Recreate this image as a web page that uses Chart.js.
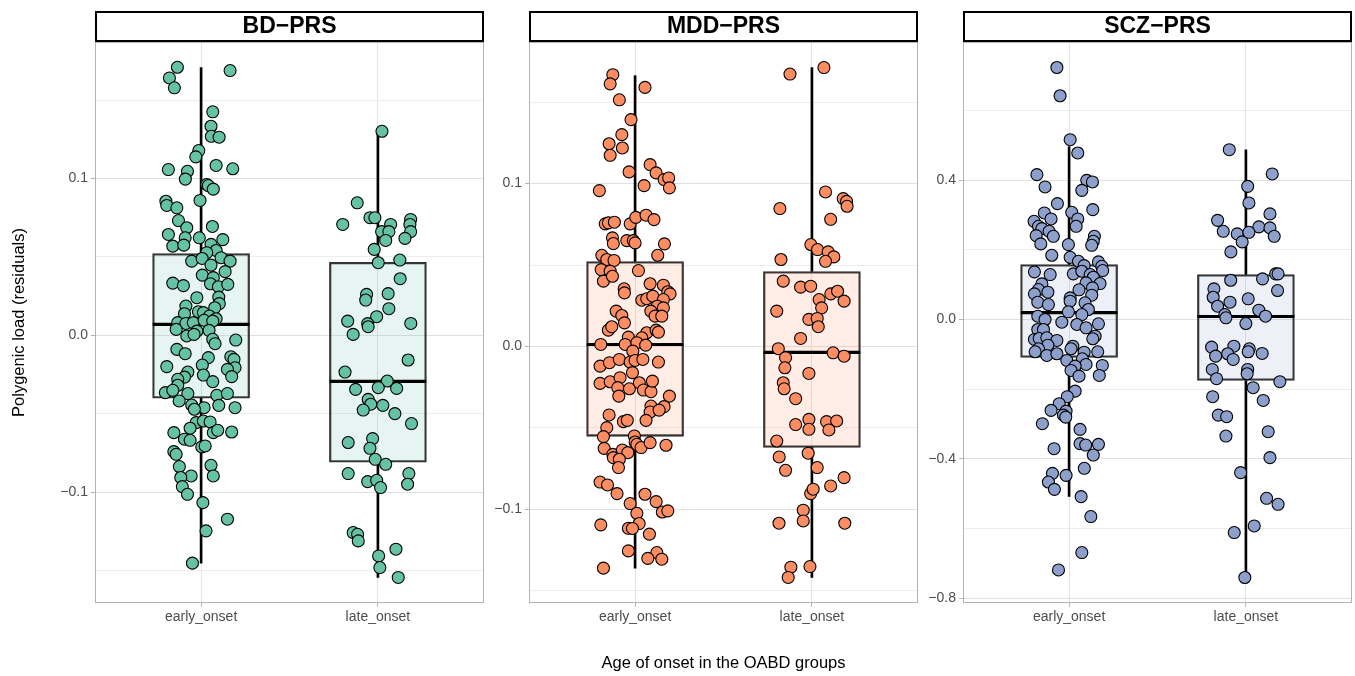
<!DOCTYPE html>
<html>
<head>
<meta charset="utf-8">
<script src="https://cdn.jsdelivr.net/npm/chart.js@4.4.1/dist/chart.umd.min.js"></script>
<style>
  html, body { margin: 0; padding: 0; background: #fff; }
  body { width: 1355px; height: 676px; position: relative; overflow: hidden; }
  canvas { position: absolute; top: 0; }
</style>
</head>
<body>
<canvas id="bdChart" width="485" height="676" style="left:0px"></canvas>
<canvas id="mddChart" width="434" height="676" style="left:485px"></canvas>
<canvas id="sczChart" width="434" height="676" style="left:919px"></canvas>
<script>
const groups = ['early_onset', 'late_onset'];
const FONT = '"Liberation Sans", Arial, Helvetica, sans-serif';

// jittered points: [x position (1 = early, 2 = late), residual]
const bdEarly = [
  [0.866, 0.1709], [1.164, 0.1688], [0.821, 0.1641], [0.849, 0.1578], [1.066, 0.1425], [1.056, 0.1333],
  [1.058, 0.1269], [1.102, 0.1263], [0.987, 0.1178], [0.970, 0.1138], [1.085, 0.1083], [0.815, 0.1057],
  [1.179, 0.1062], [0.923, 0.1046], [0.911, 0.0996], [1.032, 0.0962], [1.041, 0.0955], [1.069, 0.0932],
  [0.801, 0.0855], [0.806, 0.0828], [0.863, 0.0813], [0.994, 0.0860], [0.872, 0.0732], [0.919, 0.0686],
  [1.064, 0.0694], [0.815, 0.0643], [0.910, 0.0622], [0.990, 0.0622], [1.123, 0.0610], [0.840, 0.0569],
  [0.902, 0.0575], [1.056, 0.0580], [1.085, 0.0541], [1.032, 0.0527], [0.947, 0.0473], [1.006, 0.0490],
  [1.113, 0.0495], [1.164, 0.0473], [1.056, 0.0448], [1.136, 0.0406], [1.007, 0.0384], [1.069, 0.0368],
  [0.840, 0.0333], [0.900, 0.0317], [1.053, 0.0329], [1.098, 0.0310], [1.151, 0.0325], [0.976, 0.0240],
  [1.100, 0.0244], [0.914, 0.0187], [1.103, 0.0202], [1.077, 0.0176], [0.906, 0.0138], [0.985, 0.0151],
  [1.013, 0.0145], [1.047, 0.0123], [1.085, 0.0106], [0.868, 0.0081], [0.914, 0.0076], [0.956, 0.0081],
  [1.017, 0.0096], [1.066, 0.0091], [0.859, 0.0038], [0.976, 0.0027], [1.045, 0.0032], [0.919, -0.0004],
  [0.960, 0.0006], [1.066, -0.0025], [1.079, -0.0053], [1.196, -0.0030], [0.863, -0.0089], [0.910, -0.0117],
  [0.806, -0.0199], [1.041, -0.0142], [1.007, -0.0189], [1.168, -0.0136], [1.186, -0.0153], [1.192, -0.0206],
  [1.149, -0.0217], [1.173, -0.0263], [0.925, -0.0234], [1.013, -0.0253], [0.906, -0.0266], [0.868, -0.0280],
  [1.066, -0.0295], [0.868, -0.0318], [0.798, -0.0365], [0.840, -0.0350], [0.925, -0.0371], [1.089, -0.0382],
  [1.149, -0.0371], [0.876, -0.0418], [0.947, -0.0444], [1.017, -0.0461], [1.100, -0.0446], [1.192, -0.0461],
  [0.962, -0.0471], [0.972, -0.0556], [1.013, -0.0546], [1.051, -0.0552], [0.938, -0.0592], [0.846, -0.0620],
  [1.069, -0.0620], [1.094, -0.0605], [1.173, -0.0616], [0.906, -0.0662], [0.938, -0.0669], [1.004, -0.0711],
  [1.023, -0.0705], [0.846, -0.0741], [0.859, -0.0758], [0.877, -0.0836], [1.056, -0.0828], [1.069, -0.0896],
  [0.944, -0.0896], [0.885, -0.0906], [0.894, -0.0964], [0.923, -0.1013], [1.010, -0.1066], [1.149, -0.1172],
  [1.028, -0.1246], [0.951, -0.1452]
];
const bdLate = [
  [2.023, 0.1301], [1.883, 0.0845], [1.801, 0.0707], [1.955, 0.0750], [1.983, 0.0750], [2.072, 0.0707],
  [2.185, 0.0739], [2.181, 0.0707], [2.021, 0.0661], [2.062, 0.0661], [2.185, 0.0661], [2.044, 0.0605],
  [2.153, 0.0618], [1.979, 0.0548], [2.002, 0.0463], [2.124, 0.0480], [2.126, 0.0361], [1.936, 0.0261],
  [1.931, 0.0225], [2.058, 0.0266], [2.062, 0.0170], [1.993, 0.0119], [1.829, 0.0091], [1.942, 0.0075],
  [1.945, 0.0055], [2.186, 0.0076], [1.860, 0.0006], [2.171, -0.0157], [1.814, -0.0234], [2.053, -0.0291],
  [1.874, -0.0344], [2.002, -0.0333], [2.106, -0.0338], [1.945, -0.0408], [1.960, -0.0439], [1.917, -0.0476],
  [2.028, -0.0446], [2.096, -0.0499], [2.190, -0.0562], [1.832, -0.0683], [1.970, -0.0658], [1.955, -0.0720],
  [1.985, -0.0790], [2.044, -0.0822], [1.832, -0.0881], [1.942, -0.0932], [1.993, -0.0924], [2.015, -0.0970],
  [2.175, -0.0881], [2.168, -0.0949], [1.860, -0.1257], [1.885, -0.1268], [1.889, -0.1310], [2.102, -0.1363],
  [2.004, -0.1406], [2.011, -0.1480], [2.115, -0.1543]
];
const mddEarly = [
  [0.874, 0.1669], [0.859, 0.1613], [1.056, 0.1591], [0.911, 0.1515], [0.977, 0.1393], [0.925, 0.1301],
  [0.853, 0.1245], [0.928, 0.1219], [0.859, 0.1174], [1.085, 0.1117], [0.966, 0.1072], [1.119, 0.1066],
  [1.164, 0.1025], [1.190, 0.1035], [1.194, 0.0974], [1.051, 0.0988], [0.798, 0.0957], [0.831, 0.0753],
  [0.849, 0.0759], [0.883, 0.0763], [0.972, 0.0753], [1.004, 0.0793], [1.062, 0.0806], [1.107, 0.0779],
  [0.872, 0.0667], [0.877, 0.0632], [0.953, 0.0650], [0.990, 0.0650], [1.000, 0.0636], [1.166, 0.0630],
  [1.128, 0.0560], [0.812, 0.0560], [0.840, 0.0534], [0.881, 0.0528], [0.808, 0.0472], [0.859, 0.0462],
  [1.019, 0.0466], [0.821, 0.0401], [0.872, 0.0431], [1.085, 0.0385], [1.160, 0.0376], [1.185, 0.0336],
  [1.198, 0.0323], [0.938, 0.0354], [0.940, 0.0329], [1.038, 0.0284], [1.066, 0.0293], [1.100, 0.0309],
  [1.160, 0.0288], [1.126, 0.0247], [1.160, 0.0237], [1.089, 0.0217], [1.113, 0.0186], [1.151, 0.0186],
  [0.893, 0.0217], [0.925, 0.0190], [0.940, 0.0145], [0.849, 0.0100], [0.868, 0.0121], [1.066, 0.0084],
  [1.119, 0.0100], [1.132, 0.0088], [0.962, 0.0057], [1.038, 0.0053], [0.806, 0.0012], [0.944, 0.0012],
  [1.010, 0.0023], [1.060, 0.0008], [0.987, -0.0029], [0.802, -0.0121], [0.855, -0.0100], [0.911, -0.0080],
  [0.972, -0.0096], [1.000, -0.0086], [1.044, -0.0080], [1.132, -0.0096], [0.985, -0.0161], [0.802, -0.0227],
  [0.859, -0.0217], [0.915, -0.0192], [0.902, -0.0253], [0.968, -0.0260], [1.024, -0.0223], [1.047, -0.0268],
  [1.090, -0.0278], [1.098, -0.0213], [0.908, -0.0305], [1.194, -0.0305], [1.164, -0.0370], [1.090, -0.0366],
  [1.085, -0.0403], [1.136, -0.0391], [0.853, -0.0421], [0.934, -0.0462], [0.956, -0.0454], [1.062, -0.0454],
  [0.840, -0.0499], [0.821, -0.0554], [0.996, -0.0550], [0.825, -0.0626], [0.874, -0.0663], [0.928, -0.0636],
  [0.959, -0.0652], [1.000, -0.0587], [1.010, -0.0601], [1.034, -0.0621], [1.085, -0.0591], [1.175, -0.0607],
  [0.877, -0.0683], [0.911, -0.0693], [0.906, -0.0744], [0.802, -0.0833], [0.844, -0.0851], [0.898, -0.0904],
  [1.056, -0.0908], [1.119, -0.0953], [0.972, -0.0965], [1.010, -0.1025], [1.154, -0.1017], [1.185, -0.1010],
  [0.806, -0.1096], [1.023, -0.1088], [0.962, -0.1117], [0.985, -0.1118], [1.081, -0.1153], [0.962, -0.1256],
  [1.123, -0.1266], [1.072, -0.1302], [1.151, -0.1307], [0.821, -0.1362]
];
const mddLate = [
  [2.068, 0.1713], [1.876, 0.1673], [2.077, 0.0949], [2.177, 0.0908], [2.196, 0.0891], [2.199, 0.0861],
  [1.819, 0.0847], [2.106, 0.0781], [1.994, 0.0626], [2.032, 0.0595], [2.092, 0.0581], [2.124, 0.0550],
  [2.077, 0.0523], [1.825, 0.0534], [1.838, 0.0401], [1.936, 0.0364], [1.993, 0.0370], [2.041, 0.0288],
  [2.107, 0.0323], [2.145, 0.0339], [2.182, 0.0278], [2.055, 0.0237], [1.801, 0.0217], [1.983, 0.0166],
  [2.030, 0.0172], [2.036, 0.0121], [1.936, 0.0049], [1.810, -0.0014], [2.120, -0.0039], [2.182, -0.0060],
  [1.851, -0.0069], [1.847, -0.0131], [1.983, -0.0166], [1.838, -0.0223], [1.843, -0.0260], [1.908, -0.0321],
  [1.908, -0.0480], [1.983, -0.0448], [1.983, -0.0509], [2.083, -0.0462], [2.140, -0.0458], [2.096, -0.0513],
  [1.801, -0.0581], [1.979, -0.0656], [1.815, -0.0679], [1.851, -0.0761], [2.030, -0.0744], [2.182, -0.0806],
  [2.106, -0.0857], [1.993, -0.0904], [2.007, -0.0877], [1.951, -0.1006], [1.951, -0.1072], [1.814, -0.1086],
  [2.186, -0.1086], [1.989, -0.1352], [1.881, -0.1356], [1.866, -0.1419]
];
const sczEarly = [
  [0.931, 0.7234], [0.949, 0.6423], [1.006, 0.5161], [1.049, 0.4780], [0.818, 0.4158], [0.864, 0.3805],
  [1.100, 0.3994], [1.132, 0.3948], [1.072, 0.3708], [0.934, 0.3326], [1.134, 0.3154], [1.015, 0.3077],
  [0.860, 0.3059], [0.898, 0.2887], [0.802, 0.2819], [1.049, 0.2887], [1.040, 0.2675], [0.827, 0.2675],
  [0.846, 0.2609], [0.887, 0.2532], [0.814, 0.2409], [0.911, 0.2389], [1.143, 0.2389], [1.137, 0.2245],
  [1.128, 0.2130], [0.840, 0.2171], [0.996, 0.2151], [0.902, 0.1844], [1.006, 0.1786], [0.804, 0.1368],
  [0.893, 0.1290], [1.053, 0.1672], [1.085, 0.1548], [1.166, 0.1654], [1.185, 0.1528], [1.190, 0.1405],
  [1.024, 0.1310], [1.072, 0.1385], [1.119, 0.1290], [1.137, 0.1213], [0.846, 0.1024], [1.096, 0.1052],
  [1.175, 0.1032], [0.827, 0.0860], [0.880, 0.0783], [0.804, 0.0737], [1.056, 0.0852], [1.132, 0.0909],
  [1.006, 0.0622], [1.128, 0.0697], [0.823, 0.0496], [0.883, 0.0430], [1.006, 0.0525], [1.090, 0.0479],
  [1.109, 0.0287], [0.996, 0.0221], [1.072, 0.0143], [0.823, 0.0095], [0.864, 0.0000], [0.959, -0.0077],
  [1.166, -0.0123], [1.044, -0.0143], [1.096, -0.0238], [0.823, -0.0287], [0.855, -0.0287], [1.147, -0.0479],
  [1.134, -0.0553], [0.804, -0.0573], [0.831, -0.0545], [0.874, -0.0525], [0.931, -0.0602], [0.880, -0.0737],
  [1.021, -0.0766], [1.011, -0.0840], [0.827, -0.0840], [0.808, -0.0926], [0.874, -0.1032], [0.931, -0.0983],
  [1.085, -0.0938], [1.162, -0.0926], [0.987, -0.1176], [1.075, -0.1127], [1.096, -0.1290], [1.034, -0.1339],
  [1.011, -0.1462], [1.056, -0.1626], [1.188, -0.1319], [1.171, -0.1606], [1.034, -0.2056], [0.990, -0.2216],
  [0.944, -0.2417], [0.898, -0.2609], [0.983, -0.2629], [0.968, -0.2744], [0.981, -0.2801], [0.849, -0.2991],
  [1.062, -0.3154], [1.062, -0.3564], [1.094, -0.3604], [1.166, -0.3584], [1.137, -0.3891], [0.915, -0.3708],
  [1.086, -0.4272], [0.906, -0.4416], [0.983, -0.4473], [0.883, -0.4665], [0.917, -0.4875], [1.068, -0.5084],
  [1.123, -0.5657], [1.072, -0.6690], [0.940, -0.7189]
];
const sczLate = [
  [1.906, 0.4875], [2.149, 0.4178], [2.010, 0.3822], [2.017, 0.3346], [2.136, 0.3031], [1.840, 0.2847],
  [1.872, 0.2532], [2.073, 0.2658], [2.136, 0.2629], [2.160, 0.2389], [1.951, 0.2457], [1.979, 0.2228],
  [2.017, 0.2503], [1.915, 0.1941], [2.168, 0.1310], [2.182, 0.1310], [2.094, 0.1167], [1.914, 0.1127],
  [2.179, 0.0832], [1.819, 0.0880], [1.815, 0.0639], [1.910, 0.0496], [2.013, 0.0594], [1.840, 0.0381],
  [2.073, 0.0267], [2.111, 0.0095], [1.881, 0.0143], [1.887, 0.0049], [2.000, -0.0115], [1.806, -0.0794],
  [1.829, -0.1052], [1.932, -0.0766], [1.897, -0.0983], [1.928, -0.1147], [2.019, -0.0840], [2.013, -0.0926],
  [2.092, -0.0975], [1.810, -0.1434], [1.834, -0.1700], [2.010, -0.1434], [2.007, -0.1557], [2.192, -0.1786],
  [2.041, -0.1958], [1.812, -0.2216], [2.098, -0.2323], [1.844, -0.2744], [1.891, -0.2790], [1.887, -0.3346],
  [2.126, -0.3220], [2.136, -0.3966], [1.970, -0.4396], [2.117, -0.5133], [2.182, -0.5305], [2.047, -0.5927],
  [1.934, -0.6116], [1.994, -0.7406]
];

// boxplot stats per group: [lower whisker, Q1, median, Q3, upper whisker]
const bdBox = [[-0.1452, -0.0401, 0.0070, 0.0522, 0.1707], [-0.1543, -0.0809, -0.0293, 0.0465, 0.1310]];
const mddBox = [[-0.1362, -0.0552, 0.0012, 0.0521, 0.1663], [-0.1419, -0.0620, -0.0037, 0.0460, 0.1713]];
const sczBox = [[-0.508, -0.109, 0.020, 0.158, 0.496], [-0.741, -0.175, 0.0086, 0.129, 0.487]];

// y ticks (gridlines) and which of them carry labels
const bdTicks = [-0.15, -0.1, -0.05, 0, 0.05, 0.1, 0.15];
const bdLabels = [-0.1, 0, 0.1];
const mddTicks = [-0.15, -0.1, -0.05, 0, 0.05, 0.1, 0.15];
const mddLabels = [-0.1, 0, 0.1];
const sczTicks = [-0.8, -0.6, -0.4, -0.2, 0, 0.2, 0.4, 0.6];
const sczLabels = [-0.8, -0.4, 0, 0.4];

const bdRange = [-0.1706, 0.1870];
const mddRange = [-0.1576, 0.1870];
const sczRange = [-0.8138, 0.7966];

const BOX_HALF = 0.274;   // half box width, category units
const BOX_PX = 97;

const sameVal = (a, b) => Math.abs(a - b) < 1e-9;
const fmt = v => (v < -1e-9 ? '\u2212' : '') + Math.abs(v).toFixed(1);

const panelFrame = {
  id: 'panelFrame',
  afterDraw(chart, args, opts) {
    const { ctx, chartArea: a } = chart;
    ctx.save();
    ctx.strokeStyle = '#B3B3B3';
    ctx.lineWidth = 1;
    ctx.strokeRect(a.left + 0.5, a.top + 0.5, a.right - a.left - 1, a.bottom - a.top - 1);
    // strip on top of the panel
    ctx.fillStyle = '#fff';
    ctx.fillRect(a.left, a.top - 32, a.right - a.left, 31);
    ctx.strokeStyle = '#000';
    ctx.lineWidth = 2;
    ctx.strokeRect(a.left + 1, a.top - 30, a.right - a.left - 2, 29);
    ctx.fillStyle = '#000';
    ctx.font = 'bold 23px ' + FONT;
    ctx.textAlign = 'center';
    ctx.textBaseline = 'middle';
    ctx.fillText(opts.title, (a.left + a.right) / 2, a.top - 15);
    ctx.restore();
  }
};

function makePanel(id, title, color, fill, early, late, box, ticks, labels, range, axisWidth, yTitle, xTitle) {
  const points = early.concat(late).map(p => ({ x: p[0], y: p[1] }));
  const medians = box.map((b, i) => ({
    type: 'line',
    data: [{ x: i + 1 - BOX_HALF, y: b[2] }, { x: i + 1 + BOX_HALF, y: b[2] }],
    borderColor: '#000',
    borderWidth: 3.2,
    pointRadius: 0,
    order: 1
  }));

  new Chart(document.getElementById(id), {
    type: 'scatter',
    data: {
      datasets: [
        {
          type: 'scatter',
          data: points,
          backgroundColor: color,
          borderColor: '#000',
          borderWidth: 1.1,
          pointRadius: 6,
          order: 0
        },
        ...medians,
        {
          type: 'bar',
          data: box.map((b, i) => ({ x: i + 1, y: [b[1], b[3]] })),
          backgroundColor: fill,
          borderColor: '#333333',
          borderWidth: 1.6,
          borderSkipped: false,
          barThickness: BOX_PX,
          grouped: false,
          order: 2
        },
        {
          type: 'bar',
          data: box.flatMap((b, i) => [{ x: i + 1, y: [b[0], b[1]] }, { x: i + 1, y: [b[3], b[4]] }]),
          backgroundColor: '#000',
          borderWidth: 0,
          barThickness: 2,
          grouped: false,
          order: 3
        }
      ]
    },
    options: {
      responsive: false,
      animation: false,
      devicePixelRatio: 1,
      events: [],
      layout: { autoPadding: false, padding: { top: 42, right: 1, left: 0, bottom: 0 } },
      plugins: {
        legend: { display: false },
        tooltip: { enabled: false },
        panelFrame: { title: title }
      },
      scales: {
        x: {
          type: 'linear',
          min: 0.4,
          max: 2.6,
          offset: false,
          afterBuildTicks: axis => { axis.ticks = groups.map((g, i) => ({ value: i + 1 })); },
          afterFit: scale => {
            scale.height = 73;
            scale.paddingLeft = 0;
            scale.paddingRight = 0;
          },
          ticks: {
            autoSkip: false,
            maxRotation: 0,
            padding: 2,
            color: '#4D4D4D',
            font: { family: FONT, size: 14 },
            callback: v => groups[Math.round(v) - 1]
          },
          grid: { offset: false, color: '#E3E3E3', tickLength: 4, tickColor: '#B3B3B3' },
          border: { display: false },
          title: {
            display: !!xTitle,
            text: xTitle || '',
            color: '#000',
            font: { family: FONT, size: 16.5 },
            padding: { top: 0, bottom: 3 }
          }
        },
        y: {
          type: 'linear',
          min: range[0],
          max: range[1],
          beginAtZero: false,
          afterBuildTicks: axis => { axis.ticks = ticks.map(v => ({ value: v })); },
          afterFit: scale => {
            scale.width = axisWidth;
            scale.paddingTop = 0;
            scale.paddingBottom = 0;
          },
          ticks: {
            padding: 3,
            color: '#4D4D4D',
            font: { family: FONT, size: 14 },
            callback: v => labels.some(l => sameVal(l, v)) ? fmt(v) : ''
          },
          grid: {
            color: c => labels.some(l => sameVal(l, c.tick.value)) ? '#E0E0E0' : '#EDEDED',
            tickLength: 4,
            tickColor: c => labels.some(l => sameVal(l, c.tick.value)) ? '#B3B3B3' : 'rgba(0,0,0,0)'
          },
          border: { display: false },
          title: {
            display: !!yTitle,
            text: yTitle || '',
            color: '#000',
            font: { family: FONT, size: 16.5 },
            padding: { top: 10, bottom: 0 }
          }
        }
      }
    },
    plugins: [panelFrame]
  });
}

makePanel('bdChart', 'BD\u2212PRS', '#66C2A5', 'rgba(102,194,165,0.16)', bdEarly, bdLate, bdBox,
  bdTicks, bdLabels, bdRange, 95, 'Polygenic load (residuals)', null);
makePanel('mddChart', 'MDD\u2212PRS', '#FC8D62', 'rgba(252,141,98,0.16)', mddEarly, mddLate, mddBox,
  mddTicks, mddLabels, mddRange, 44, null, 'Age of onset in the OABD groups');
makePanel('sczChart', 'SCZ\u2212PRS', '#8DA0CB', 'rgba(141,160,203,0.16)', sczEarly, sczLate, sczBox,
  sczTicks, sczLabels, sczRange, 44, null, null);
</script>
</body>
</html>
